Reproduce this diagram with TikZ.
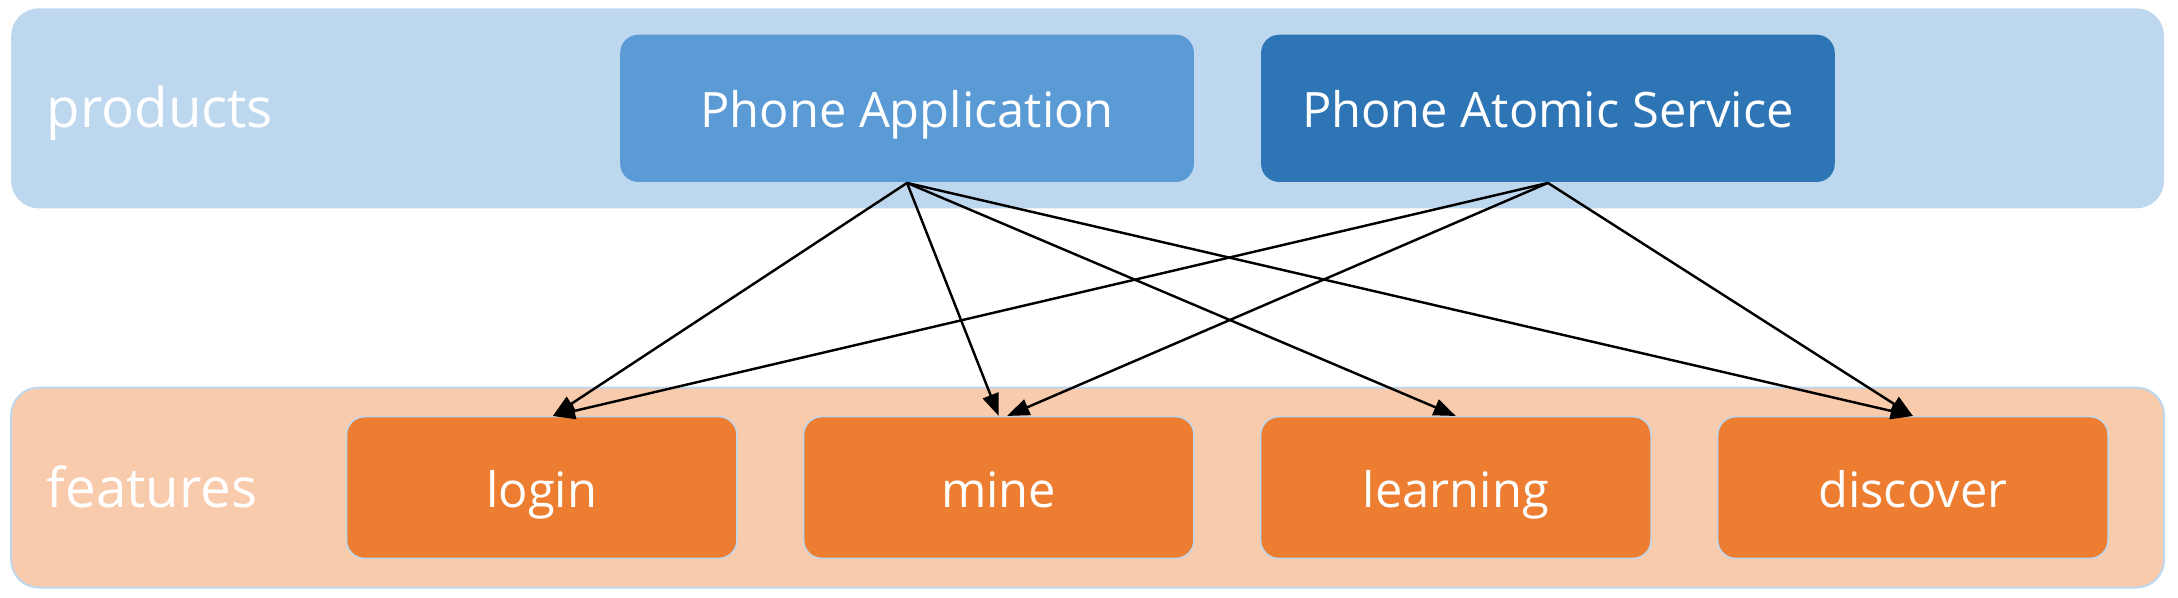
\documentclass[tikz,border=0pt]{standalone}
\usepackage{fontspec}
\setmainfont{Open Sans}
\usetikzlibrary{positioning, arrows.meta}

\definecolor{bandblue}{HTML}{BDD7EE}
\definecolor{bandorange}{HTML}{F8CBAD}
\definecolor{appblue}{HTML}{5B9BD5}
\definecolor{atomicblue}{HTML}{2E75B6}
\definecolor{featorange}{HTML}{ED7D31}

\begin{document}
\begin{tikzpicture}[%
        >={Triangle[length=1.6mm, width=1.2mm]},
        x=0.1mm, y=0.1mm,           % units follow the picture in pixels
        node distance=4.7mm,        % gap between boxes
        font=\fontsize{10}{12}\selectfont,
    ]
    \tikzset{
        band/.style={rectangle, rounded corners=2mm, inner sep=0pt, minimum width=155mm, minimum height=14.4mm},
        tag/.style={text=white, anchor=west, inner sep=0pt, text height=2ex, text depth=0.5ex, font=\fontsize{11.2}{13}\selectfont},
        prod/.style={rectangle, rounded corners=1.3mm, text=white, text height=2ex, text depth=0.5ex, minimum width=41.3mm, minimum height=10.6mm},
        feat/.style={rectangle, rounded corners=1.3mm, text=white, text height=2ex, text depth=0.5ex, fill=featorange, draw=bandblue, line width=0.3pt, minimum width=28.1mm, minimum height=10.2mm},
        link/.style={->, draw, black, line width=0.5pt},
    }
    \useasboundingbox (0,0) rectangle (1568,-430);
    %%% Layers
    \node [band, fill=bandblue] (products) at (783,-78) {};
    \node [band, fill=bandorange, draw=bandblue, line width=0.4pt] (features) at (783,-351) {};
    \node [tag] (products_tag) at (33,-78) {products};
    \node [tag] (features_tag) at (33,-351) {features};
    %%% Blocks
    \node [prod, fill=appblue] (app) at (653,-78) {Phone Application};
    \node [prod, fill=atomicblue, right=of app] (atomic) {Phone Atomic Service};
    \node [feat] (login) at (390,-351) {login};
    \node [feat, right=of login] (mine) {mine};
    \node [feat, right=of mine] (learning) {learning};
    \node [feat, right=of learning] (discover) {discover};
    %%% Connectors
    % -- application
    \draw [link] (app.south) -- ([xshift=0.8mm]login.north);
    \draw [link] (app.south) -- (mine.north);
    \draw [link] (app.south) -- (learning.north);
    \draw [link] (app.south) -- (discover.north);
    % -- atomic service
    \draw [link] (atomic.south) -- ([xshift=0.8mm]login.north);
    \draw [link] (atomic.south) -- ([xshift=0.6mm]mine.north);
    \draw [link] (atomic.south) -- (discover.north);
\end{tikzpicture}
\end{document}
